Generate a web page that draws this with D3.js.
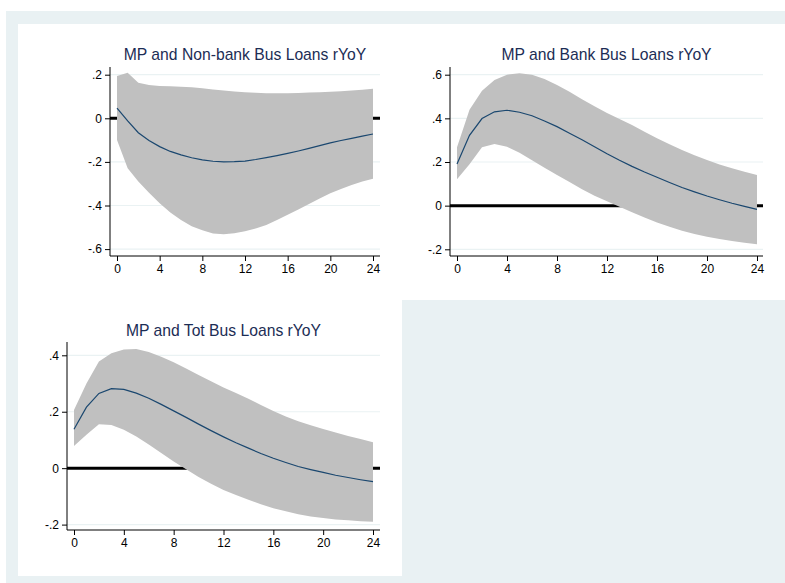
<!DOCTYPE html>
<html>
<head>
<meta charset="utf-8">
<script src="https://cdn.jsdelivr.net/npm/d3@7"></script>
<style>
  html, body { margin: 0; padding: 0; background: #ffffff; }
  svg { display: block; font-family: Arial, "Liberation Sans", sans-serif; }
</style>
</head>
<body>
<svg id="chart" width="785" height="583"></svg>
<script>
// Impulse responses (horizon 0..24) with confidence bands
const horizons = d3.range(0, 25);

const nonbankIRF = [0.047, -0.012, -0.066, -0.102, -0.13, -0.152, -0.168, -0.181, -0.191, -0.197, -0.2, -0.199, -0.196,
  -0.189, -0.18, -0.171, -0.161, -0.15, -0.138, -0.125, -0.113, -0.102, -0.092, -0.082, -0.072];
const nonbankUpper = [0.194, 0.209, 0.163, 0.153, 0.148, 0.147, 0.145, 0.142, 0.138, 0.132, 0.127, 0.123, 0.119,
  0.117, 0.115, 0.115, 0.115, 0.116, 0.118, 0.12, 0.122, 0.124, 0.127, 0.131, 0.135];
const nonbankLower = [-0.1, -0.229, -0.29, -0.342, -0.39, -0.432, -0.467, -0.495, -0.514, -0.529, -0.532, -0.527, -0.518,
  -0.505, -0.489, -0.467, -0.443, -0.418, -0.393, -0.368, -0.344, -0.324, -0.306, -0.29, -0.277];

const bankIRF = [0.191, 0.322, 0.399, 0.43, 0.437, 0.428, 0.412, 0.388, 0.362, 0.332, 0.302, 0.27, 0.238,
  0.208, 0.18, 0.154, 0.13, 0.106, 0.083, 0.063, 0.044, 0.027, 0.011, -0.003, -0.017];
const bankUpper = [0.268, 0.439, 0.526, 0.576, 0.6, 0.607, 0.6, 0.58, 0.553, 0.522, 0.488, 0.455, 0.425,
  0.397, 0.37, 0.339, 0.309, 0.281, 0.255, 0.231, 0.209, 0.189, 0.171, 0.155, 0.141];
const bankLower = [0.121, 0.19, 0.268, 0.283, 0.27, 0.242, 0.208, 0.174, 0.141, 0.108, 0.075, 0.045, 0.02,
  -0.005, -0.03, -0.054, -0.077, -0.097, -0.115, -0.13, -0.143, -0.153, -0.162, -0.17, -0.177];

const totIRF = [0.138, 0.216, 0.265, 0.282, 0.279, 0.266, 0.248, 0.226, 0.203, 0.18, 0.156, 0.133, 0.111,
  0.09, 0.071, 0.052, 0.035, 0.02, 0.006, -0.005, -0.015, -0.025, -0.033, -0.041, -0.048];
const totUpper = [0.206, 0.3, 0.378, 0.407, 0.421, 0.422, 0.412, 0.395, 0.375, 0.353, 0.33, 0.308, 0.286,
  0.266, 0.246, 0.224, 0.203, 0.183, 0.166, 0.152, 0.139, 0.126, 0.114, 0.103, 0.092];
const totLower = [0.079, 0.118, 0.156, 0.153, 0.136, 0.112, 0.084, 0.054, 0.024, -0.004, -0.031, -0.055, -0.077,
  -0.095, -0.112, -0.128, -0.142, -0.153, -0.163, -0.171, -0.177, -0.182, -0.185, -0.188, -0.19];

const xTicks = [0, 4, 8, 12, 16, 20, 24];
const nonbankYTicks = [-0.6, -0.4, -0.2, 0, 0.2];
const bankYTicks = [-0.2, 0, 0.2, 0.4, 0.6];
const totYTicks = [-0.2, 0, 0.2, 0.4];

const titles = ["MP and Non-bank Bus Loans rYoY", "MP and Bank Bus Loans rYoY", "MP and Tot Bus Loans rYoY"];

const svg = d3.select("#chart");

// Combined-graph backdrop: light outer region with white graph areas
svg.append("rect").attr("x", 6).attr("y", 11).attr("width", 779).attr("height", 572).attr("fill", "#e9f1f3");
svg.append("rect").attr("x", 18).attr("y", 24).attr("width", 767).attr("height", 276).attr("fill", "#ffffff");
svg.append("rect").attr("x", 18).attr("y", 300).attr("width", 384).attr("height", 276).attr("fill", "#ffffff");

// Stata-style labels: no leading zero, plain hyphen for negatives
const fmt = v => {
  if (Math.abs(v) < 1e-9) return "0";
  return (v < 0 ? "-" : "") + Math.abs(v).toFixed(1).replace(/^0/, "");
};

// Panel layout: axis box (left, right, top, bottom), x-range of data and y-range of the tick extremes
const panels = [
  { title: titles[0], irf: nonbankIRF, up: nonbankUpper, lo: nonbankLower, yTicks: nonbankYTicks,
    axL: 110, axR: 380, axT: 67, axB: 256, x0: 117, x1: 373, yDom: [-0.6, 0.2], yRng: [249.1, 74.7], titleY: 59.5 },
  { title: titles[1], irf: bankIRF, up: bankUpper, lo: bankLower, yTicks: bankYTicks,
    axL: 450, axR: 763, axT: 67, axB: 256, x0: 457, x1: 757, yDom: [-0.2, 0.6], yRng: [249.3, 74.7], titleY: 59.5 },
  { title: titles[2], irf: totIRF, up: totUpper, lo: totLower, yTicks: totYTicks,
    axL: 67, axR: 380, axT: 342, axB: 530, x0: 74, x1: 373, yDom: [-0.2, 0.4], yRng: [524.6, 355.3], titleY: 335.5 }
];

panels.forEach(p => {
  const g = svg.append("g");
  const x = d3.scaleLinear().domain([0, 24]).range([p.x0, p.x1]);
  const y = d3.scaleLinear().domain(p.yDom).range(p.yRng);

  // gridlines
  g.selectAll(".grid").data(p.yTicks).join("line")
    .attr("x1", p.axL).attr("x2", p.axR)
    .attr("y1", d => y(d)).attr("y2", d => y(d))
    .attr("stroke", "#eaf2f3").attr("stroke-width", 1.2);

  // zero reference line
  g.append("line")
    .attr("x1", p.axL).attr("x2", p.axR)
    .attr("y1", y(0)).attr("y2", y(0))
    .attr("stroke", "#000000").attr("stroke-width", 3);

  // confidence band
  const area = d3.area()
    .x((d, i) => x(horizons[i]))
    .y0((d, i) => y(p.lo[i]))
    .y1((d, i) => y(p.up[i]));
  g.append("path").datum(p.irf).attr("d", area).attr("fill", "#c0c0c0");

  // impulse response
  const line = d3.line().x((d, i) => x(horizons[i])).y(d => y(d));
  g.append("path").datum(p.irf).attr("d", line)
    .attr("fill", "none").attr("stroke", "#1a476f").attr("stroke-width", 1.2);

  // y axis
  const yAxis = d3.axisLeft(y).tickValues(p.yTicks).tickSize(5).tickPadding(3).tickFormat(fmt);
  const ya = g.append("g").attr("transform", `translate(${p.axL},0)`).call(yAxis);
  ya.select(".domain").remove();
  g.append("line").attr("x1", p.axL).attr("x2", p.axL).attr("y1", p.axT).attr("y2", p.axB)
    .attr("stroke", "#000").attr("stroke-width", 1);

  // x axis
  const xAxis = d3.axisBottom(x).tickValues(xTicks).tickSize(5).tickPadding(3).tickFormat(d3.format("d"));
  const xa = g.append("g").attr("transform", `translate(0,${p.axB})`).call(xAxis);
  xa.select(".domain").remove();
  g.append("line").attr("x1", p.axL).attr("x2", p.axR).attr("y1", p.axB).attr("y2", p.axB)
    .attr("stroke", "#000").attr("stroke-width", 1);

  [ya, xa].forEach(a => {
    a.selectAll("text").attr("font-size", 12).attr("fill", "#000").attr("font-family", "Arial, 'Liberation Sans', sans-serif");
    a.selectAll(".tick line").attr("stroke", "#000");
  });

  // title
  g.append("text")
    .attr("x", (p.axL + p.axR) / 2).attr("y", p.titleY)
    .attr("text-anchor", "middle")
    .attr("font-size", 15.7).attr("fill", "#1c2d55")
    .text(p.title);
});
</script>
</body>
</html>
